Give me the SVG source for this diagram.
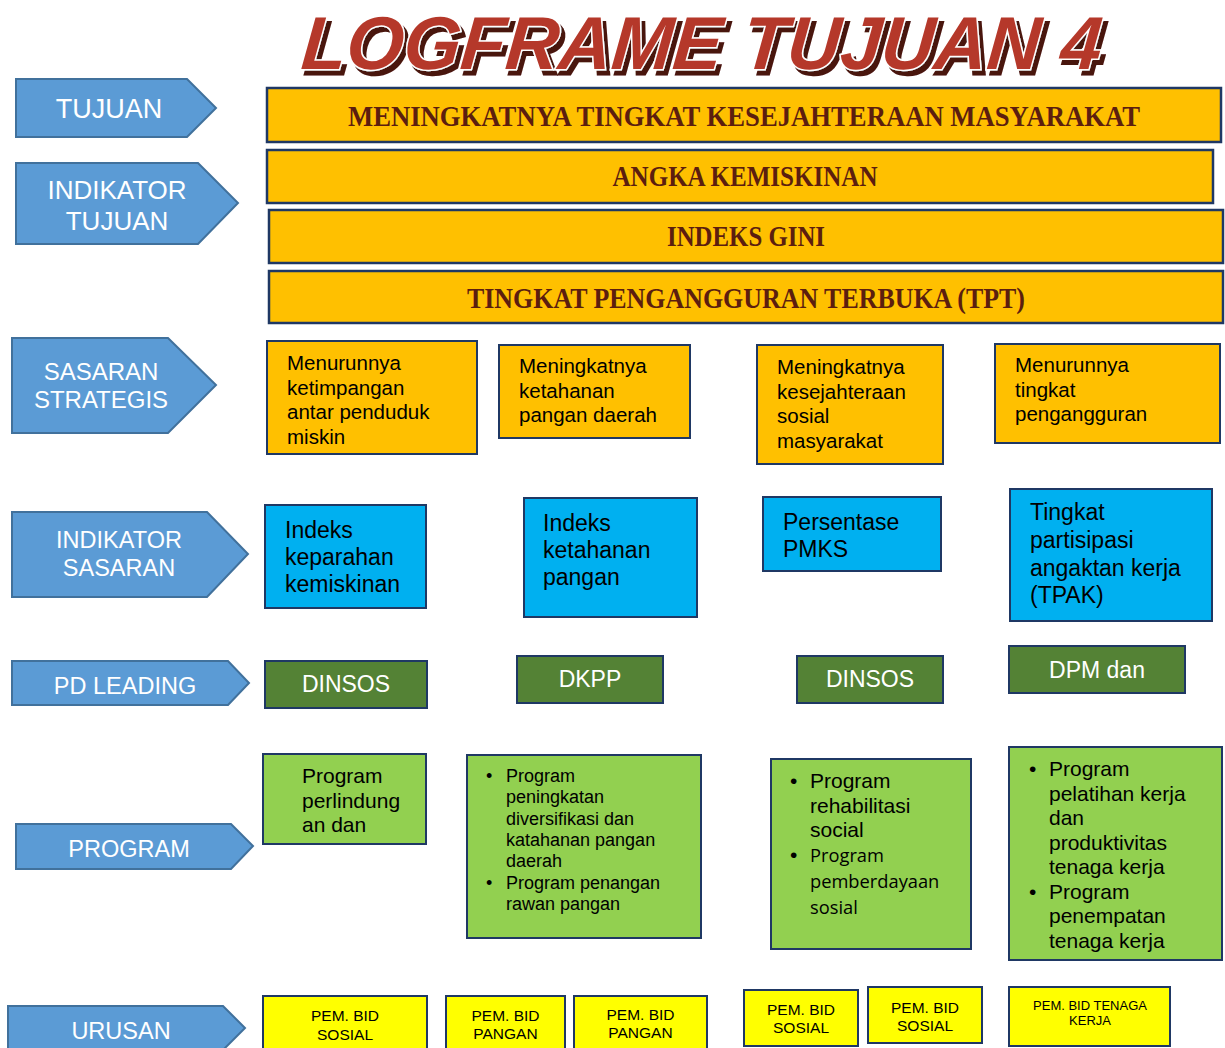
<svg xmlns="http://www.w3.org/2000/svg" width="1225" height="1048" viewBox="0 0 1225 1048">
  <style>
    .arrow { fill: #5B9BD5; stroke: #41719C; stroke-width: 2; }
    .lbl { font-family: "Liberation Sans", Arial, sans-serif; fill: #FFFFFF; text-anchor: middle; }
    .orange { fill: #FFC000; stroke: #1F3864; stroke-width: 2.5; }
    .head { font-family: "Liberation Serif", "Times New Roman", serif; font-weight: bold; fill: #5C1E0F; font-size: 28.5px; text-anchor: middle; }
    .box { fill: #FFC000; stroke: #1F3864; stroke-width: 2; }
    .blue { fill: #00B0F0; stroke: #1F3864; stroke-width: 2; }
    .dgreen { fill: #548235; stroke: #1F3864; stroke-width: 2; }
    .lgreen { fill: #92D050; stroke: #1F3864; stroke-width: 2; }
    .yellow { fill: #FFFF00; stroke: #1F3864; stroke-width: 2; }
    .t { font-family: "Liberation Sans", Arial, sans-serif; fill: #000000; }
    .alt { font-family: "Open Sans", "DejaVu Sans", sans-serif; fill: #000000; }
    .w { font-family: "Liberation Sans", Arial, sans-serif; fill: #FFFFFF; text-anchor: middle; font-size: 23px; }
    .u { font-family: "Liberation Sans", Arial, sans-serif; fill: #000000; text-anchor: middle; }
    .title { font-family: "Liberation Sans", Arial, sans-serif; font-weight: bold; font-style: italic; font-size: 75px; }
  </style>
  <defs>
    <!-- dark offset shadow behind the outlined title -->
    <filter id="titleShadow" x="-5%" y="-30%" width="110%" height="160%">
      <feFlood flood-color="#4A140E" result="c"/>
      <feComposite in="c" in2="SourceAlpha" operator="in" result="s"/>
      <feOffset in="s" dx="4" dy="5" result="so"/>
      <feMerge>
        <feMergeNode in="so"/>
        <feMergeNode in="SourceGraphic"/>
      </feMerge>
    </filter>
  </defs>

  <rect x="0" y="0" width="1225" height="1048" fill="#FFFFFF"/>

  <!-- Title with drop shadow and white outline -->
  <g id="title" filter="url(#titleShadow)">
    <text class="title" x="306" y="69" transform="skewX(-5)" textLength="800" lengthAdjust="spacingAndGlyphs" fill="#B5392B" stroke="#FFFFFF" stroke-width="3" paint-order="stroke">LOGFRAME TUJUAN 4</text>
  </g>

  <!-- Row labels (pentagon arrows) -->
  <g id="lbl-tujuan">
    <path class="arrow" d="M16,79 H187 L216,108 L187,137 H16 Z"/>
    <text class="lbl" x="109" y="118" font-size="27">TUJUAN</text>
  </g>
  <g id="lbl-indikator-tujuan">
    <path class="arrow" d="M16,163 H198 L238,203 L198,244 H16 Z"/>
    <text class="lbl" x="117" y="199" font-size="26">INDIKATOR</text>
    <text class="lbl" x="117" y="230" font-size="26">TUJUAN</text>
  </g>
  <g id="lbl-sasaran-strategis">
    <path class="arrow" d="M12,338 H168 L216,385 L168,433 H12 Z"/>
    <text class="lbl" x="101" y="380" font-size="24">SASARAN</text>
    <text class="lbl" x="101" y="408" font-size="24">STRATEGIS</text>
  </g>
  <g id="lbl-indikator-sasaran">
    <path class="arrow" d="M12,512 H207 L248,554 L207,597 H12 Z"/>
    <text class="lbl" x="119" y="548" font-size="23.5">INDIKATOR</text>
    <text class="lbl" x="119" y="576" font-size="23.5">SASARAN</text>
  </g>
  <g id="lbl-pd-leading">
    <path class="arrow" d="M12,661 H228 L249,683 L228,705 H12 Z"/>
    <text class="lbl" x="125" y="694" font-size="23.5">PD LEADING</text>
  </g>
  <g id="lbl-program">
    <path class="arrow" d="M16,824 H231 L253,846 L231,869 H16 Z"/>
    <text class="lbl" x="129" y="857" font-size="23.5">PROGRAM</text>
  </g>
  <g id="lbl-urusan">
    <path class="arrow" d="M8,1006 H223 L245,1028 L223,1050 H8 Z"/>
    <text class="lbl" x="121" y="1039" font-size="23.5">URUSAN</text>
  </g>

  <!-- Goal and goal indicators -->
  <g id="tujuan">
    <rect class="orange" x="267" y="88" width="954" height="54"/>
    <text class="head" x="744" y="126" textLength="792" lengthAdjust="spacingAndGlyphs">MENINGKATNYA TINGKAT KESEJAHTERAAN MASYARAKAT</text>
  </g>
  <g id="ind-angka-kemiskinan">
    <rect class="orange" x="267" y="150" width="946" height="53"/>
    <text class="head" x="745" y="186" textLength="265" lengthAdjust="spacingAndGlyphs">ANGKA KEMISKINAN</text>
  </g>
  <g id="ind-indeks-gini">
    <rect class="orange" x="269" y="210" width="954" height="53"/>
    <text class="head" x="746" y="246" textLength="158" lengthAdjust="spacingAndGlyphs">INDEKS GINI</text>
  </g>
  <g id="ind-tpt">
    <rect class="orange" x="269" y="271" width="954" height="52"/>
    <text class="head" x="746" y="308" textLength="558" lengthAdjust="spacingAndGlyphs">TINGKAT PENGANGGURAN TERBUKA (TPT)</text>
  </g>

  <!-- Strategic targets -->
  <g id="sasaran-1">
    <rect class="box" x="267" y="341" width="210" height="113"/>
    <text class="t" font-size="20.5">
      <tspan x="287" y="370">Menurunnya</tspan>
      <tspan x="287" y="394.5">ketimpangan</tspan>
      <tspan x="287" y="419">antar penduduk</tspan>
      <tspan x="287" y="443.5">miskin</tspan>
    </text>
  </g>
  <g id="sasaran-2">
    <rect class="box" x="499" y="345" width="191" height="93"/>
    <text class="t" font-size="20.5">
      <tspan x="519" y="373">Meningkatnya</tspan>
      <tspan x="519" y="397.5">ketahanan</tspan>
      <tspan x="519" y="422">pangan daerah</tspan>
    </text>
  </g>
  <g id="sasaran-3">
    <rect class="box" x="757" y="345" width="186" height="119"/>
    <text class="t" font-size="20.5">
      <tspan x="777" y="374">Meningkatnya</tspan>
      <tspan x="777" y="398.5">kesejahteraan</tspan>
      <tspan x="777" y="423">sosial</tspan>
      <tspan x="777" y="447.5">masyarakat</tspan>
    </text>
  </g>
  <g id="sasaran-4">
    <rect class="box" x="995" y="344" width="225" height="99"/>
    <text class="t" font-size="20.5">
      <tspan x="1015" y="372">Menurunnya</tspan>
      <tspan x="1015" y="396.5">tingkat</tspan>
      <tspan x="1015" y="421">pengangguran</tspan>
    </text>
  </g>

  <!-- Target indicators -->
  <g id="indikator-1">
    <rect class="blue" x="265" y="505" width="161" height="103"/>
    <text class="t" font-size="23">
      <tspan x="285" y="538">Indeks</tspan>
      <tspan x="285" y="565">keparahan</tspan>
      <tspan x="285" y="592">kemiskinan</tspan>
    </text>
  </g>
  <g id="indikator-2">
    <rect class="blue" x="524" y="498" width="173" height="119"/>
    <text class="t" font-size="23">
      <tspan x="543" y="531">Indeks</tspan>
      <tspan x="543" y="558">ketahanan</tspan>
      <tspan x="543" y="585">pangan</tspan>
    </text>
  </g>
  <g id="indikator-3">
    <rect class="blue" x="763" y="497" width="178" height="74"/>
    <text class="t" font-size="23">
      <tspan x="783" y="530">Persentase</tspan>
      <tspan x="783" y="557">PMKS</tspan>
    </text>
  </g>
  <g id="indikator-4">
    <rect class="blue" x="1010" y="489" width="202" height="132"/>
    <text class="t" font-size="23">
      <tspan x="1030" y="520">Tingkat</tspan>
      <tspan x="1030" y="548">partisipasi</tspan>
      <tspan x="1030" y="576">angaktan kerja</tspan>
      <tspan x="1030" y="603">(TPAK)</tspan>
    </text>
  </g>

  <!-- Leading agencies -->
  <g id="pd-1">
    <rect class="dgreen" x="265" y="661" width="162" height="47"/>
    <text class="w" x="346" y="692">DINSOS</text>
  </g>
  <g id="pd-2">
    <rect class="dgreen" x="517" y="656" width="146" height="47"/>
    <text class="w" x="590" y="687">DKPP</text>
  </g>
  <g id="pd-3">
    <rect class="dgreen" x="797" y="656" width="146" height="47"/>
    <text class="w" x="870" y="687">DINSOS</text>
  </g>
  <g id="pd-4">
    <rect class="dgreen" x="1009" y="646" width="176" height="47"/>
    <text class="w" x="1097" y="678">DPM dan</text>
  </g>

  <!-- Programs -->
  <g id="program-1">
    <rect class="lgreen" x="263" y="754" width="163" height="90"/>
    <text class="t" font-size="21">
      <tspan x="302" y="783">Program</tspan>
      <tspan x="302" y="808">perlindung</tspan>
      <tspan x="302" y="832">an dan</tspan>
    </text>
  </g>
  <g id="program-2">
    <rect class="lgreen" x="467" y="755" width="234" height="183"/>
    <text class="t" font-size="18">
      <tspan x="486" y="782">•</tspan>
      <tspan x="506" y="782">Program</tspan>
      <tspan x="506" y="803.3">peningkatan</tspan>
      <tspan x="506" y="824.6">diversifikasi dan</tspan>
      <tspan x="506" y="845.9">katahanan pangan</tspan>
      <tspan x="506" y="867.2">daerah</tspan>
      <tspan x="486" y="888.5">•</tspan>
      <tspan x="506" y="888.5">Program penangan</tspan>
      <tspan x="506" y="909.8">rawan pangan</tspan>
    </text>
  </g>
  <g id="program-3">
    <rect class="lgreen" x="771" y="759" width="200" height="190"/>
    <text class="t" font-size="21">
      <tspan x="790" y="788">•</tspan>
      <tspan x="810" y="788">Program</tspan>
      <tspan x="810" y="812.5">rehabilitasi</tspan>
      <tspan x="810" y="837">social</tspan>
      <tspan x="790" y="862">•</tspan>
    </text>
    <text class="alt" font-size="18.3">
      <tspan x="810" y="862">Program</tspan>
      <tspan x="810" y="888">pemberdayaan</tspan>
      <tspan x="810" y="914">sosial</tspan>
    </text>
  </g>
  <g id="program-4">
    <rect class="lgreen" x="1009" y="747" width="213" height="213"/>
    <text class="t" font-size="21">
      <tspan x="1029" y="776">•</tspan>
      <tspan x="1049" y="776">Program</tspan>
      <tspan x="1049" y="800.5">pelatihan kerja</tspan>
      <tspan x="1049" y="825">dan</tspan>
      <tspan x="1049" y="849.5">produktivitas</tspan>
      <tspan x="1049" y="874">tenaga kerja</tspan>
      <tspan x="1029" y="898.5">•</tspan>
      <tspan x="1049" y="898.5">Program</tspan>
      <tspan x="1049" y="923">penempatan</tspan>
      <tspan x="1049" y="947.5">tenaga kerja</tspan>
    </text>
  </g>

  <!-- Government affairs -->
  <g id="urusan-1">
    <rect class="yellow" x="263" y="996" width="164" height="56"/>
    <text class="u" font-size="15.5"><tspan x="345" y="1021">PEM. BID</tspan><tspan x="345" y="1039.5">SOSIAL</tspan></text>
  </g>
  <g id="urusan-2">
    <rect class="yellow" x="446" y="996" width="119" height="56"/>
    <text class="u" font-size="15.5"><tspan x="505.5" y="1021">PEM. BID</tspan><tspan x="505.5" y="1039">PANGAN</tspan></text>
  </g>
  <g id="urusan-3">
    <rect class="yellow" x="574" y="996" width="133" height="56"/>
    <text class="u" font-size="15.5"><tspan x="640.5" y="1020">PEM. BID</tspan><tspan x="640.5" y="1038">PANGAN</tspan></text>
  </g>
  <g id="urusan-4">
    <rect class="yellow" x="744" y="990" width="114" height="56"/>
    <text class="u" font-size="15.5"><tspan x="801" y="1015">PEM. BID</tspan><tspan x="801" y="1033">SOSIAL</tspan></text>
  </g>
  <g id="urusan-5">
    <rect class="yellow" x="868" y="987" width="114" height="56"/>
    <text class="u" font-size="15.5"><tspan x="925" y="1012.5">PEM. BID</tspan><tspan x="925" y="1031">SOSIAL</tspan></text>
  </g>
  <g id="urusan-6">
    <rect class="yellow" x="1009" y="987" width="161" height="59"/>
    <text class="u" font-size="13"><tspan x="1090" y="1010">PEM. BID TENAGA</tspan><tspan x="1090" y="1025">KERJA</tspan></text>
  </g>

  <!-- The layout has no connector lines between boxes -->
  <g id="connectors"/>
</svg>
